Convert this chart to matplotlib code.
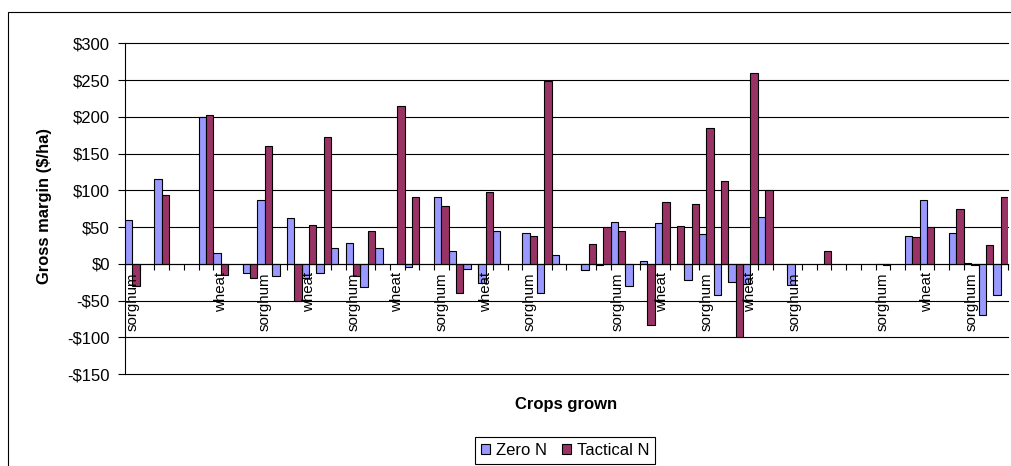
import numpy as np
import matplotlib
matplotlib.use('Agg')
import matplotlib.pyplot as plt
from matplotlib.patches import Patch, Rectangle

plt.rcParams['font.family'] = ['Liberation Sans', 'DejaVu Sans']

# ───── Data (nan = no bar drawn) ─────
nan = np.nan
zero_n = [59, nan, 116, nan, nan, 200, 15, nan, -13, 87,
          -17, 62, -20, -13, 21, 28, -32, 21, nan, -5,
          nan, 91, 18, -7, -26, 44, nan, 42, -40, 12,
          nan, -9, -1, 57, -30, 4, 56, nan, -22, 40,
          -42, -25, -28, 63, nan, -29, nan, nan, nan, nan,
          nan, 0, nan, 38, 87, nan, 42, 1, -70, -43]
tactical_n = [-30, nan, 93, nan, nan, 202, -15, nan, -19, 160,
              nan, -51, 53, 173, nan, -17, 44, nan, 215, 91,
              nan, 78, -40, nan, 97, nan, nan, 38, 249, nan,
              nan, 27, 50, 44, nan, -84, 84, 52, 82, 185,
              112, -99, 260, 100, nan, nan, nan, 17, nan, nan,
              nan, -2, nan, 36, 50, nan, 74, -1, 26, 91]
# every third category carries a visible label
crop_labels = ['sorghum', '', 'wheat', 'sorghum', 'wheat', 'sorghum', 'wheat',
               'sorghum', 'wheat', 'sorghum', '', 'sorghum', 'wheat', 'sorghum',
               'wheat', 'sorghum', '', 'sorghum', 'wheat', 'sorghum']
y_ticks = [-150, -100, -50, 0, 50, 100, 150, 200, 250, 300]

BLUE = '#9999FF'
PLUM = '#993366'

# ───── Figure ─────
W, H = 1012, 466
fig = plt.figure(figsize=(W / 100, H / 100), dpi=100)
ax = fig.add_axes([125 / W, 1 - 374 / H, (1008 - 125) / W, (374 - 43.3) / H])
ax.set_axisbelow(True)

n = len(zero_n)
x = np.arange(n)
ax.bar(x - 0.25, zero_n, width=0.5, color=BLUE, edgecolor='black', linewidth=0.8, zorder=3)
ax.bar(x + 0.25, tactical_n, width=0.5, color=PLUM, edgecolor='black', linewidth=0.8, zorder=3)

ax.set_xlim(-0.5, n - 0.5)
ax.set_ylim(-150, 300)
ax.set_yticks(y_ticks)
ax.set_yticklabels([f'-${-v}' if v < 0 else f'${v}' for v in y_ticks], fontsize=12)
ax.yaxis.grid(True, color='black', linewidth=0.8)
for gl in ax.get_ygridlines():
    gl.set_clip_on(False)
ax.tick_params(axis='y', length=4.8, width=0.8, pad=6)

# category axis sits on the zero line, labels drawn over the bars
for s in ['top', 'right']:
    ax.spines[s].set_visible(False)
ax.spines['bottom'].set_position(('data', 0))
ax.spines['bottom'].set_zorder(4)
ax.spines['left'].set_linewidth(0.8)
ax.xaxis.set_zorder(5)
ax.set_xticks(np.arange(n + 1) - 0.5)
ax.set_xticklabels([])
ax.set_xticks(np.arange(0, n, 3), minor=True)
ax.set_xticklabels(crop_labels, minor=True, rotation=90, fontsize=10.8, va='top')
ax.tick_params(axis='x', which='major', length=4, width=0.8, direction='out')
ax.tick_params(axis='x', which='minor', length=0, pad=6)

# ───── Titles, legend, chart border ─────
fig.text(45 / W, 1 - 206.5 / H, 'Gross margin ($/ha)', rotation=90,
         ha='center', va='center', fontsize=11.9, fontweight='bold')
fig.text(566 / W, 1 - 404 / H, 'Crops grown', ha='center', va='center',
         fontsize=12, fontweight='bold')

handles = [Patch(facecolor=BLUE, edgecolor='black', linewidth=0.8, label='Zero N'),
           Patch(facecolor=PLUM, edgecolor='black', linewidth=0.8, label='Tactical N')]
leg = fig.legend(handles=handles, loc='center', bbox_to_anchor=(565 / W, 1 - 450.5 / H),
                 ncol=2, fontsize=12, fancybox=False, edgecolor='black', framealpha=1,
                 handlelength=0.55, handleheight=0.55, handletextpad=0.35,
                 columnspacing=0.9, borderpad=0.35, borderaxespad=0)
leg.get_frame().set_linewidth(0.8)

fig.patches.append(Rectangle((8 / W, -0.1), 2, 0.1 + 1 - 12 / H, fill=False,
                             edgecolor='black', linewidth=0.8,
                             transform=fig.transFigure, figure=fig))

fig.savefig('out.png', dpi=100)
